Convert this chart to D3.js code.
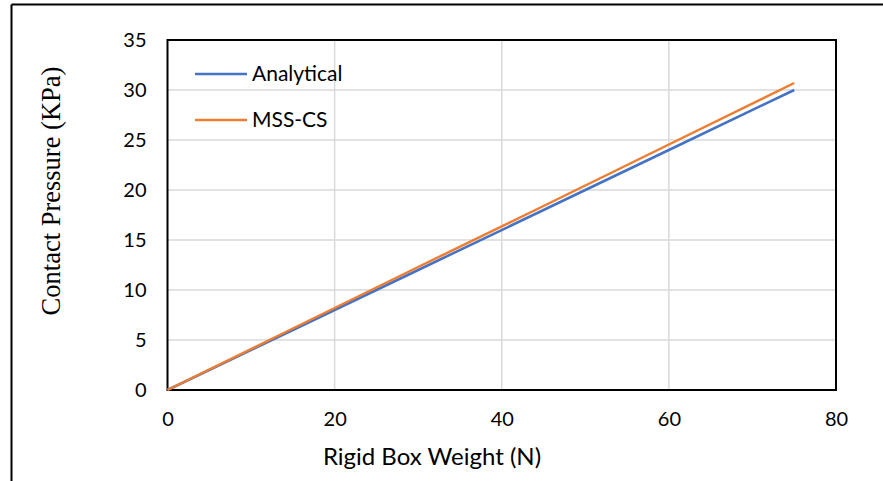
<!DOCTYPE html>
<html>
<head>
<meta charset="utf-8">
<script src="https://cdn.jsdelivr.net/npm/d3@7"></script>
<style>
  body { margin: 0; background: #fff; }
  text { font-family: Lato, "Open Sans", sans-serif; }
</style>
</head>
<body>
<svg id="chart" width="883" height="481"></svg>
<script>
// data
var weights = [0, 15, 30, 45, 60, 75];
var analytical = [0, 6, 12, 18, 24, 30];
var mssCs = [0, 6.15, 12.3, 18.4, 24.55, 30.7];
var xTicks = [0, 20, 40, 60, 80];
var yTicks = [0, 5, 10, 15, 20, 25, 30, 35];
var seriesNames = ["Analytical", "MSS-CS"];
var seriesColors = ["#4472c4", "#ed7d31"];

var svg = d3.select("#chart");

// outer frame (top + left only)
svg.append("line").attr("x1", 11.5).attr("y1", 4.5).attr("x2", 883).attr("y2", 4.5)
    .attr("stroke", "#000").attr("stroke-width", 2);
svg.append("line").attr("x1", 11.5).attr("y1", 4.5).attr("x2", 11.5).attr("y2", 481)
    .attr("stroke", "#000").attr("stroke-width", 2);

var plotL = 167.5, plotR = 836, plotT = 40, plotB = 390;
var x = d3.scaleLinear().domain([0, 80]).range([plotL, plotR]);
var y = d3.scaleLinear().domain([0, 35]).range([plotB, plotT]);

// gridlines
svg.append("g").selectAll("line").data(yTicks.slice(1, -1)).enter().append("line")
    .attr("x1", plotL).attr("x2", plotR)
    .attr("y1", function (d) { return y(d); })
    .attr("y2", function (d) { return y(d); })
    .attr("stroke", "#d9d9d9").attr("stroke-width", 1.5);
svg.append("g").selectAll("line").data(xTicks.slice(1, -1)).enter().append("line")
    .attr("y1", plotT).attr("y2", plotB)
    .attr("x1", function (d) { return x(d); })
    .attr("x2", function (d) { return x(d); })
    .attr("stroke", "#d9d9d9").attr("stroke-width", 1.5);

// axes (labels only, no ticks)
var xAxis = svg.append("g").attr("transform", "translate(0," + plotB + ")")
    .call(d3.axisBottom(x).tickValues(xTicks).tickSize(0).tickPadding(22));
var yAxis = svg.append("g").attr("transform", "translate(" + plotL + ",0)")
    .call(d3.axisLeft(y).tickValues(yTicks).tickSize(0).tickPadding(21));
[xAxis, yAxis].forEach(function (a) {
    a.select(".domain").remove();
    a.selectAll("text").style("font-size", "20px").style("font-family", "Lato, sans-serif").attr("fill", "#000");
});

// plot frame
svg.append("rect").attr("x", plotL).attr("y", plotT)
    .attr("width", plotR - plotL).attr("height", plotB - plotT)
    .attr("fill", "none").attr("stroke", "#000").attr("stroke-width", 2);

// series lines
var line = d3.line()
    .x(function (d) { return x(d[0]); })
    .y(function (d) { return y(d[1]); });
[analytical, mssCs].forEach(function (vals, i) {
    svg.append("path")
        .datum(weights.map(function (w, k) { return [w, vals[k]]; }))
        .attr("d", line)
        .attr("fill", "none")
        .attr("stroke", seriesColors[i])
        .attr("stroke-width", 2.5);
});

// legend
var legend = svg.append("g").selectAll("g").data(seriesNames).enter().append("g")
    .attr("transform", function (d, i) { return "translate(195," + (74 + i * 46) + ")"; });
legend.append("line").attr("x1", 0).attr("x2", 52).attr("y1", 0).attr("y2", 0)
    .attr("stroke", function (d, i) { return seriesColors[i]; }).attr("stroke-width", 2.5);
legend.append("text").attr("x", 57).attr("y", 7).text(function (d) { return d; })
    .style("font-size", "21px");

// axis titles
svg.append("text").attr("x", 432).attr("y", 465)
    .attr("text-anchor", "middle").style("font-size", "24px")
    .text("Rigid Box Weight (N)");
svg.append("text")
    .attr("transform", "translate(60,191) rotate(-90)")
    .attr("text-anchor", "middle")
    .style("font-family", "'Liberation Serif', 'Times New Roman', serif")
    .style("font-size", "26.5px")
    .text("Contact Pressure (KPa)");
</script>
</body>
</html>
